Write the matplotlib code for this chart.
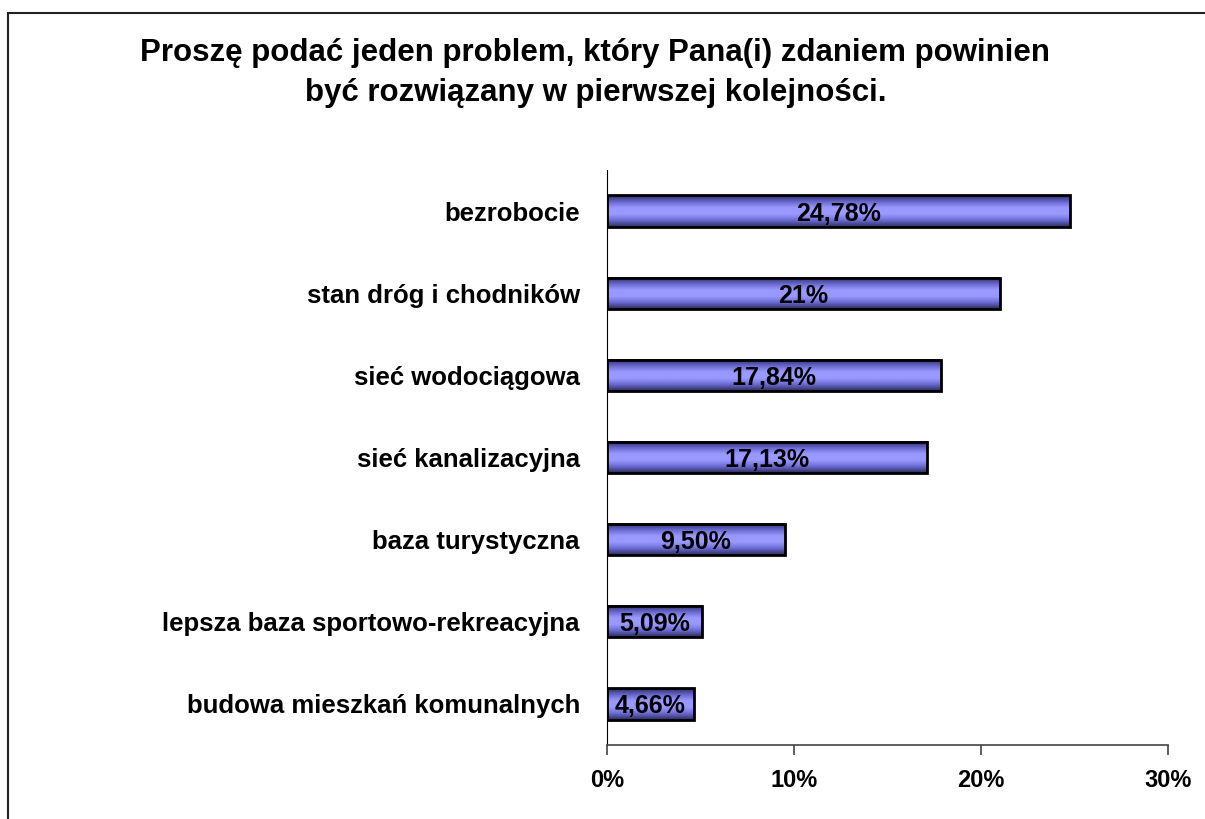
import matplotlib.pyplot as plt
import numpy as np
from matplotlib.colors import LinearSegmentedColormap
from matplotlib.patches import Rectangle

# data
categories = ['bezrobocie', 'stan dróg i chodników', 'sieć wodociągowa',
              'sieć kanalizacyjna', 'baza turystyczna',
              'lepsza baza sportowo-rekreacyjna', 'budowa mieszkań komunalnych']
values = [24.78, 21.0, 17.84, 17.13, 9.50, 5.09, 4.66]
value_labels = ['24,78%', '21%', '17,84%', '17,13%', '9,50%', '5,09%', '4,66%']
xticks = [0, 10, 20, 30]
xtick_labels = ['0%', '10%', '20%', '30%']

plt.rcParams['font.family'] = ['Liberation Sans', 'DejaVu Sans']

fig = plt.figure(figsize=(12.05, 8.19), dpi=100)
ax = fig.add_axes([0.5037, 0.0904, 0.4656, 0.702])

cmap = LinearSegmentedColormap.from_list('bar', ['#2b2b5c', '#6666cc', '#9999ff', '#9999ff', '#6a6ad0', '#2b2b5c'])
grad = np.linspace(0, 1, 64).reshape(-1, 1)

ypos = np.arange(len(categories))[::-1]
h = 0.38
for y, v, lab in zip(ypos, values, value_labels):
    ax.imshow(grad, extent=[0, v, y - h / 2, y + h / 2], aspect='auto', cmap=cmap,
              origin='upper', zorder=2, interpolation='bilinear')
    ax.add_patch(Rectangle((0, y - h / 2), v, h, fill=False, edgecolor='black', lw=2, zorder=3))
    ax.text(v / 2, y, lab, ha='center', va='center_baseline', fontsize=18, fontweight='bold', zorder=4)

ax.set_xlim(0, 30)
ax.set_ylim(-0.5, len(categories) - 0.5)
ax.set_yticks(ypos)
ax.set_yticklabels(categories, fontsize=18.5, fontweight='bold')
ax.tick_params(axis='y', length=0, pad=19.5)
ax.set_xticks(xticks)
ax.set_xticklabels(xtick_labels, fontsize=17, fontweight='bold')
ax.tick_params(axis='x', length=7, width=1.2, color='#444444', pad=10)
for s in ['top', 'right']:
    ax.spines[s].set_visible(False)
ax.spines['left'].set_color('black')
ax.spines['bottom'].set_color('#444444')
ax.spines['bottom'].set_linewidth(1.2)

fig.text(0.494, 0.911, 'Proszę podać jeden problem, który Pana(i) zdaniem powinien\nbyć rozwiązany w pierwszej kolejności.',
         ha='center', va='center', fontsize=22.5, fontweight='bold', linespacing=1.42)

fig.patches.append(Rectangle((8 / 1205, -0.1), 1.2, 1.1 - 13 / 819, transform=fig.transFigure,
                             fill=False, edgecolor='#222222', lw=1.5))

fig.savefig('out.png', dpi=100)
